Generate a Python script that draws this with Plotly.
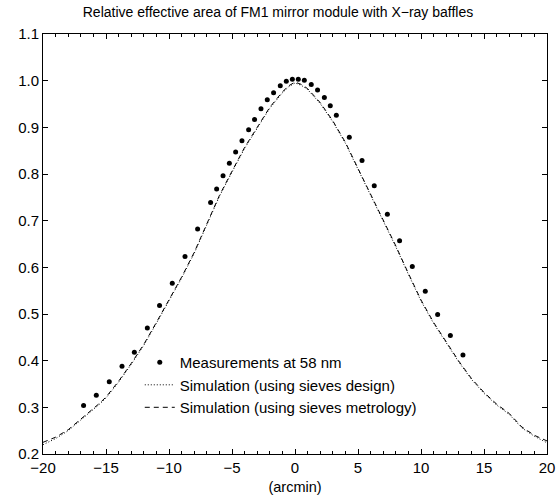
import plotly.graph_objects as go

# Measurements at 58 nm
meas_x = [-16.78, -15.77, -14.74, -13.73, -12.75, -11.72, -10.75, -9.74, -8.73, -7.73,
          -6.70, -6.22, -5.71, -5.21, -4.71, -4.21, -3.68, -3.21, -2.70, -2.20,
          -1.70, -1.17, -0.69, -0.21, 0.26, 0.74, 1.29, 1.79, 2.33, 2.80,
          3.28, 4.31, 5.32, 6.29, 7.33, 8.30, 9.31, 10.34, 11.32, 12.33, 13.33]
meas_y = [0.304, 0.326, 0.355, 0.388, 0.418, 0.470, 0.518, 0.566, 0.623, 0.682,
          0.739, 0.768, 0.796, 0.823, 0.847, 0.871, 0.895, 0.917, 0.940, 0.959,
          0.974, 0.989, 0.999, 1.003, 1.003, 1.001, 0.992, 0.980, 0.964, 0.946,
          0.926, 0.879, 0.829, 0.775, 0.714, 0.657, 0.602, 0.549, 0.499, 0.454, 0.412]

# Simulations
sim_x = [-20, -19, -18, -17, -16, -15.5, -15, -14, -13, -12, -11, -10, -9, -8, -7, -6, -5,
         -4, -3, -2, -1, -0.5, 0, 0.5, 1, 2, 3, 4, 5, 6, 7, 8, 9, 10, 11, 12, 13, 14,
         15, 16, 17, 18, 19, 20]
sim_design = [0.220, 0.233, 0.250, 0.272, 0.294, 0.307, 0.320, 0.354, 0.392, 0.433,
              0.480, 0.527, 0.577, 0.630, 0.690, 0.752, 0.804, 0.855, 0.898, 0.941,
              0.974, 0.987, 0.995, 0.990, 0.981, 0.951, 0.912, 0.866, 0.810, 0.755,
              0.700, 0.644, 0.585, 0.528, 0.480, 0.437, 0.397, 0.360, 0.330, 0.305,
              0.285, 0.256, 0.238, 0.224]
sim_metrology = [0.225, 0.236, 0.252, 0.274, 0.296, 0.309, 0.322, 0.356, 0.394, 0.435,
                 0.482, 0.529, 0.579, 0.632, 0.692, 0.754, 0.806, 0.857, 0.900, 0.943,
                 0.976, 0.989, 0.997, 0.992, 0.983, 0.953, 0.914, 0.868, 0.812, 0.757,
                 0.702, 0.646, 0.587, 0.530, 0.482, 0.439, 0.399, 0.362, 0.332, 0.307,
                 0.287, 0.258, 0.240, 0.228]

x_ticks = [-20, -15, -10, -5, 0, 5, 10, 15, 20]
y_ticks = [0.2, 0.3, 0.4, 0.5, 0.6, 0.7, 0.8, 0.9, 1.0, 1.1]

FONT = "Liberation Sans, Arial, Helvetica, sans-serif"

fig = go.Figure()
fig.add_trace(go.Scatter(x=meas_x, y=meas_y, mode="markers", name="Measurements at 58 nm",
                         marker=dict(color="black", size=5, symbol="circle")))
fig.add_trace(go.Scatter(x=sim_x, y=sim_design, mode="lines",
                         name="Simulation (using sieves design)",
                         line=dict(color="black", width=1, dash="1px,2px")))
fig.add_trace(go.Scatter(x=sim_x, y=sim_metrology, mode="lines",
                         name="Simulation (using sieves metrology)",
                         line=dict(color="black", width=1, dash="5px,4px")))

axis_common = dict(showline=True, linecolor="black", linewidth=1, mirror="ticks",
                   ticks="inside", ticklen=5, tickcolor="black", tickwidth=1,
                   showgrid=False, zeroline=False, automargin=False,
                   tickfont=dict(family=FONT, size=15, color="black"))

fig.update_xaxes(range=[-20, 20], tickvals=x_ticks,
                 minor=dict(ticks="inside", ticklen=3, dtick=1, tick0=0,
                            tickcolor="black", showgrid=False),
                 title=dict(text="(arcmin)", font=dict(family=FONT, size=14.5, color="black"),
                            standoff=6),
                 **axis_common)
fig.update_yaxes(range=[0.2, 1.1], tickvals=y_ticks, tickformat=".1f", **axis_common)

fig.update_layout(
    width=556, height=496,
    margin=dict(l=43, r=9, t=34, b=42, autoexpand=False),
    paper_bgcolor="white", plot_bgcolor="white",
    title=dict(text="Relative effective area of FM1 mirror module with X\u2212ray baffles",
               x=0.5, xanchor="center", y=0.975, yanchor="middle",
               font=dict(family=FONT, size=14, color="black")),
    showlegend=True,
    legend=dict(x=0.192, y=0.257, xanchor="left", yanchor="top",
                bgcolor="rgba(0,0,0,0)", borderwidth=0,
                font=dict(family=FONT, size=15, color="black"),
                tracegroupgap=0, itemwidth=30),
    font=dict(family=FONT, color="black"),
)

fig.write_html("out.html", config={"displayModeBar": False},
               post_script="document.body.style.margin='0';")
